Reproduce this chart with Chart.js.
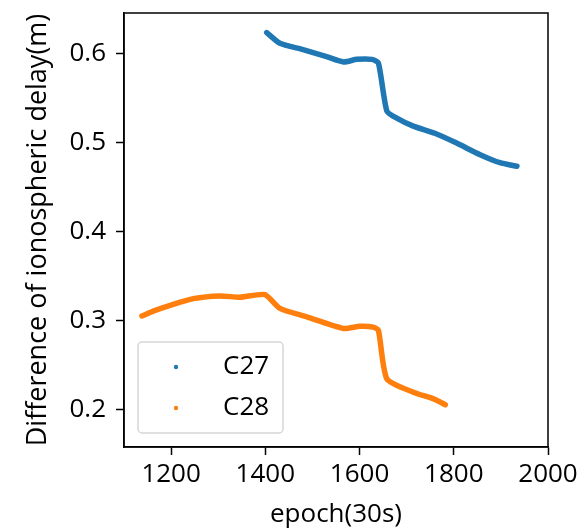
<!DOCTYPE html>
<html>
<head>
<meta charset="utf-8">
<script src="https://cdn.jsdelivr.net/npm/chart.js"></script>
<style>
  html, body { margin: 0; padding: 0; background: #ffffff; }
  #ionoChart { display: block; }
</style>
</head>
<body>
<canvas id="ionoChart" width="580" height="530"></canvas>
<script>
// ionospheric delay difference per epoch
var seriesNames = ["C27", "C28"];
var seriesColors = ["#1f77b4", "#ff7f0e"];

var c27Epoch = [1403, 1431, 1480, 1530, 1566, 1594, 1626, 1640, 1658, 1679, 1714, 1760, 1806, 1856, 1898, 1934];
var c27Delay = [0.623, 0.611, 0.604, 0.596, 0.590, 0.593, 0.593, 0.589, 0.535, 0.527, 0.518, 0.510, 0.499, 0.486, 0.477, 0.473];

var c28Epoch = [1138, 1165, 1198, 1247, 1304, 1346, 1399, 1431, 1488, 1566, 1601, 1629, 1640, 1658, 1714, 1757, 1782];
var c28Delay = [0.305, 0.311, 0.317, 0.3245, 0.3275, 0.326, 0.329, 0.3135, 0.304, 0.291, 0.2935, 0.2925, 0.289, 0.2345, 0.2195, 0.212, 0.2055];

var xTicks = [1200, 1400, 1600, 1800, 2000];
var yTicks = [0.2, 0.3, 0.4, 0.5, 0.6];

var fontFamily = "'Open Sans', 'Noto Sans', sans-serif";
var fontSize = 26;

function toPoints(xs, ys) {
    var pts = [];
    for (var i = 0; i < xs.length; i++) { pts.push({x: xs[i], y: ys[i]}); }
    return pts;
}

// matplotlib-like frame around the plot area
var framePlugin = {
    id: "frame",
    afterDatasetsDraw: function(chart) {
        var a = chart.chartArea, ctx = chart.ctx;
        ctx.save();
        ctx.strokeStyle = "#000000";
        ctx.lineWidth = 1.5;
        ctx.strokeRect(a.left, a.top, a.right - a.left, a.bottom - a.top);
        ctx.restore();
    }
};

// legend box in the lower left corner, inside the axes
var insideLegend = {
    id: "insideLegend",
    afterDraw: function(chart) {
        var a = chart.chartArea, ctx = chart.ctx;
        var sets = chart.data.datasets;
        var boxW = 145, rowH = 41, boxH = rowH * sets.length + 9;
        var left = a.left + 14, top = a.bottom - 14 - boxH;
        ctx.save();
        ctx.beginPath();
        ctx.roundRect(left, top, boxW, boxH, 4);
        ctx.fillStyle = "rgba(255,255,255,0.8)";
        ctx.fill();
        ctx.strokeStyle = "#d6d6d6";
        ctx.lineWidth = 1.5;
        ctx.stroke();
        ctx.font = fontSize + "px " + fontFamily;
        ctx.textBaseline = "middle";
        for (var i = 0; i < sets.length; i++) {
            var cy = top + 25 + i * rowH;
            ctx.beginPath();
            ctx.arc(left + 38, cy, 2.2, 0, Math.PI * 2);
            ctx.fillStyle = sets[i].borderColor;
            ctx.fill();
            ctx.fillStyle = "#000000";
            ctx.fillText(sets[i].label, left + 85, cy);
        }
        ctx.restore();
    }
};

function makeSet(idx, xs, ys) {
    return {
        label: seriesNames[idx],
        data: toPoints(xs, ys),
        showLine: true,
        borderColor: seriesColors[idx],
        backgroundColor: seriesColors[idx],
        borderWidth: 5.5,
        borderCapStyle: "round",
        borderJoinStyle: "round",
        pointRadius: 0,
        tension: 0.2
    };
}

new Chart(document.getElementById("ionoChart"), {
    type: "scatter",
    data: {
        datasets: [
            makeSet(0, c27Epoch, c27Delay),
            makeSet(1, c28Epoch, c28Delay)
        ]
    },
    options: {
        responsive: false,
        animation: false,
        devicePixelRatio: 1,
        layout: { padding: { top: 13, right: 32, left: 0, bottom: 0 } },
        plugins: {
            legend: { display: false },
            tooltip: { enabled: false }
        },
        scales: {
            x: {
                type: "linear",
                min: 1100,
                max: 2000,
                afterBuildTicks: function(scale) {
                    scale.ticks = xTicks.map(function(v) { return {value: v}; });
                },
                afterFit: function(scale) {
                    scale.height = 83;
                    scale.paddingLeft = 0;
                    scale.paddingRight = 0;
                },
                grid: { drawOnChartArea: false, tickLength: 8, tickWidth: 1.5, tickColor: "#000000" },
                border: { color: "#000000", width: 1.5 },
                ticks: {
                    color: "#000000",
                    padding: 4,
                    maxRotation: 0,
                    font: { family: fontFamily, size: fontSize },
                    callback: function(v) { return String(v); }
                },
                title: {
                    display: true,
                    text: "epoch(30s)",
                    color: "#000000",
                    padding: { top: 1, bottom: 0 },
                    font: { family: fontFamily, size: fontSize }
                }
            },
            y: {
                type: "linear",
                min: 0.158,
                max: 0.645,
                afterBuildTicks: function(scale) {
                    scale.ticks = yTicks.map(function(v) { return {value: v}; });
                },
                afterFit: function(scale) {
                    scale.width = 124;
                    scale.paddingTop = 0;
                    scale.paddingBottom = 0;
                },
                grid: { drawOnChartArea: false, tickLength: 8, tickWidth: 1.5, tickColor: "#000000" },
                border: { color: "#000000", width: 1.5 },
                ticks: {
                    color: "#000000",
                    padding: 10,
                    font: { family: fontFamily, size: fontSize },
                    callback: function(v) { return v.toFixed(1); }
                },
                title: {
                    display: true,
                    text: "Difference of ionospheric delay(m)",
                    color: "#000000",
                    padding: { top: 22, bottom: 0 },
                    font: { family: fontFamily, size: 27 }
                }
            }
        }
    },
    plugins: [framePlugin, insideLegend]
});
</script>
</body>
</html>
